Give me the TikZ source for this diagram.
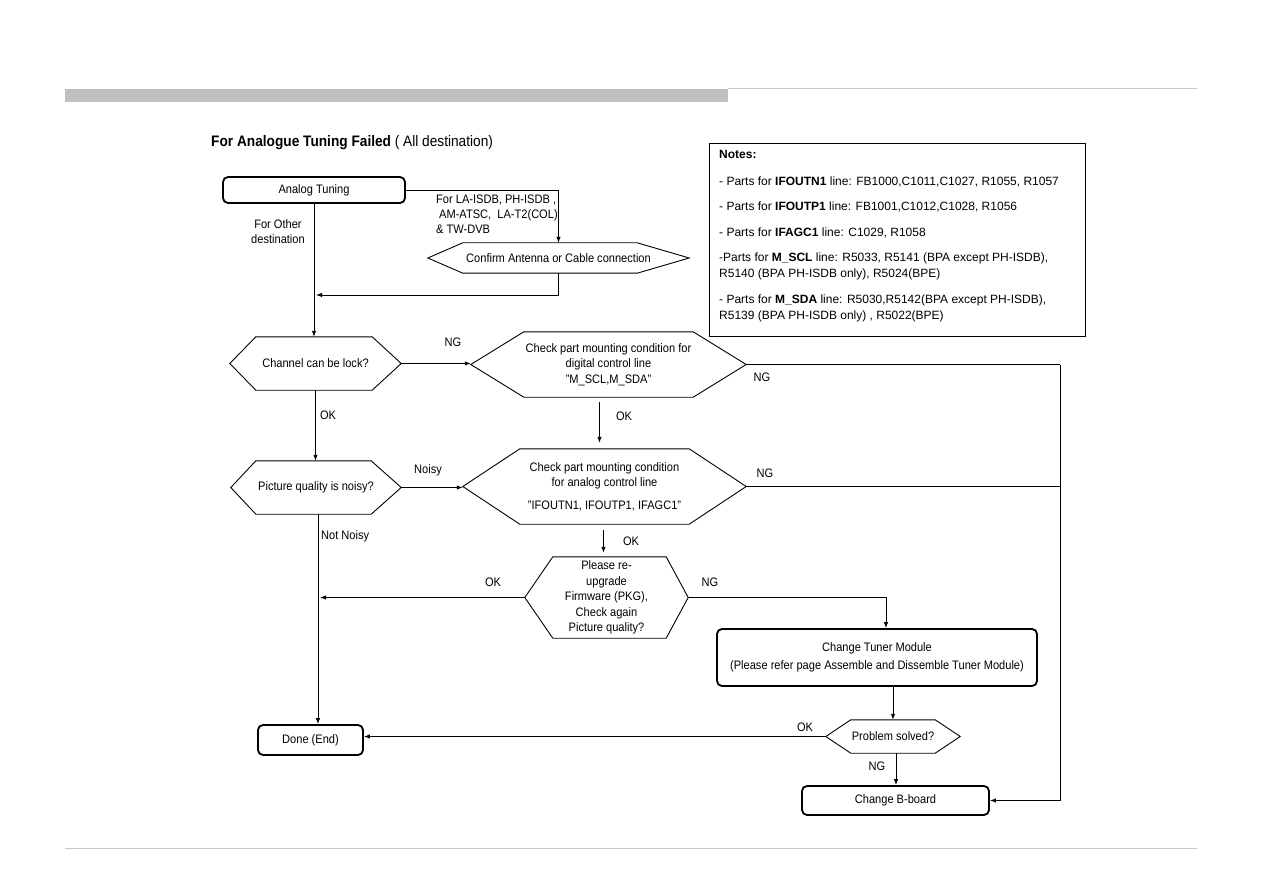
\documentclass[tikz,border=0pt]{standalone}
\usepackage{fontspec}
\setmainfont{Liberation Sans}[FakeStretch=0.9]
\newfontfamily\notafont{Liberation Sans}
\usetikzlibrary{positioning, arrows.meta, calc}
\definecolor{cbar}{RGB}{192,192,192}
\definecolor{cregla}{RGB}{200,200,200}

% hexagono: nodo, hueco izq., hueco der.
\newcommand{\hexa}[3]{%
  \draw[conn] (#1.west) -- ([xshift=#2]#1.north west) -- ([xshift=-#3]#1.north east)
    -- (#1.east) -- ([xshift=-#3]#1.south east) -- ([xshift=#2]#1.south west) -- cycle;}

\begin{document}
\begin{tikzpicture}[x=1pt, y=-1pt, font=\fontsize{12.3}{15.5}\selectfont, >={Latex[length=6pt,width=4.5pt]},
    box/.style={draw, line width=1.8pt, rounded corners=5pt, inner sep=0pt, align=center},
    hexn/.style={inner sep=0pt, align=center},
    lbl/.style={inner sep=0pt},
    conn/.style={line width=0.9pt}]

  \useasboundingbox (0,0) rectangle (1263,893);

  % cabecera y pie de pagina
  \fill[cbar] (65,89) rectangle (728,102);
  \draw[cregla, line width=1pt] (728,89) -- (1197,89);
  \draw[cregla, line width=0.8pt] (65,848) -- (1197,848);

  \node[lbl, anchor=west] (titulo) at (211,143) {\fontsize{15.2}{17}\selectfont\textbf{For Analogue Tuning Failed} ( All destination)};

  % nodos
  \node[box, minimum width=182, minimum height=26] (tune) at (314,190) {Analog Tuning};
  \node[hexn, minimum width=261, minimum height=30] (conf) at (558.5,258) {Confirm Antenna or Cable connection};
  \node[hexn, minimum width=171, minimum height=53] (chan) at (315.5,363.5) {Channel can be lock?};
  \node[hexn, minimum width=275, minimum height=65] (digi) at (608.5,364.5) {Check part mounting condition for\\ digital control line\\ "M\_SCL,M\_SDA"};
  \node[hexn, minimum width=170, minimum height=53] (pic) at (316,487.5) {Picture quality is noisy?};
  \node[hexn, minimum width=283, minimum height=75] (ana) at (604.5,486.5) {Check part mounting condition\\ for analog control line\\[7pt] "IFOUTN1, IFOUTP1, IFAGC1"};
  \node[hexn, minimum width=163, minimum height=81] (please) at (606.5,597.5) {Please re-\\ upgrade\\ Firmware (PKG),\\ Check again\\ Picture quality?};
  \node[box, minimum width=320, minimum height=57] (tuner) at (877,657.5) {Change Tuner Module\\[3pt] (Please refer page Assemble and Dissemble Tuner Module)};
  \node[hexn, minimum width=134, minimum height=33] (prob) at (893,736.5) {Problem solved?};
  \node[box, minimum width=187, minimum height=29] (board) at (895.5,800.5) {Change B-board};
  \node[box, minimum width=105, minimum height=30] (done) at (310.5,740) {Done (End)};

  \hexa{conf}{35pt}{52pt}
  \hexa{chan}{26pt}{29pt}
  \hexa{digi}{53pt}{53pt}
  \hexa{pic}{25pt}{30pt}
  \hexa{ana}{57pt}{57pt}
  \hexa{please}{28pt}{22pt}
  \hexa{prob}{25pt}{25pt}

  % notas
  \node[draw, conn, minimum width=376, minimum height=193, inner sep=0pt] (notas) at (897,239.5) {};
  \node[lbl, anchor=north west, align=left, font=\notafont\fontsize{12}{16}\selectfont] (notastxt) at (719,150) {%
    \textbf{Notes:}\\[11pt]
    - Parts for \textbf{IFOUTN1} line: FB1000,C1011,C1027, R1055, R1057\\[9pt]
    - Parts for \textbf{IFOUTP1} line: FB1001,C1012,C1028, R1056\\[10pt]
    - Parts for \textbf{IFAGC1} line: C1029, R1058\\[9pt]
    -Parts for \textbf{M\_SCL} line: R5033, R5141 (BPA except PH-ISDB),\\
    R5140 (BPA PH-ISDB only), R5024(BPE)\\[10pt]
    - Parts for \textbf{M\_SDA} line: R5030,R5142(BPA except PH-ISDB),\\
    R5139 (BPA PH-ISDB only) , R5022(BPE)};

  % carril derecho hacia B-board
  \coordinate (rail) at (1060,365);
  \coordinate (join) at (316,295);

  % conexiones
  \draw[conn, ->] (tune.east) -| (conf.north);
  \draw[conn, ->] (conf.south) |- (join);
  \draw[conn, ->] (tune.south) -- (tune.south |- chan.north);
  \draw[conn, ->] (chan.east) -- (chan.east -| digi.west);
  \draw[conn] (digi.east) -- (digi.east -| rail);
  \draw[conn, ->] (rail) |- (board.east);
  \draw[conn] (ana.east) -- (ana.east -| rail);
  \draw[conn, ->, shorten <=5pt, shorten >=6pt] ([xshift=-9pt]digi.south) -- ([xshift=-9pt]digi.south |- ana.north);
  \draw[conn, ->] (chan.south) -- (chan.south |- pic.north);
  \draw[conn, ->] (pic.east) -- (pic.east -| ana.west);
  \draw[conn, ->] ([xshift=2pt]pic.south) -- ([xshift=2pt]pic.south |- done.north);
  \draw[conn, ->, shorten <=6pt, shorten >=4pt] ([xshift=-1pt]ana.south) -- ([xshift=-1pt]ana.south |- please.north);
  \draw[conn, ->] (please.west) -- ([xshift=4pt]please.west -| pic.south);
  \draw[conn, ->] (please.east) -| ([xshift=9pt]tuner.north);
  \draw[conn, ->] (tuner.south -| prob.north) -- (prob.north);
  \draw[conn, ->] (prob.west) -- (prob.west -| done.east);
  \draw[conn, ->] ([xshift=3pt]prob.south) -- ([xshift=3pt]prob.south |- board.north);

  % etiquetas
  \node[lbl, anchor=west, align=left, font=\fontsize{12.3}{15}\selectfont] (ldest) at (436,214) {For LA-ISDB, PH-ISDB ,\\ \hspace{3pt}AM-ATSC,\ \ LA-T2(COL)\\ \& TW-DVB};
  \node[lbl, align=center, font=\fontsize{12.3}{15}\selectfont] (lotra) at (278,232) {For Other\\ destination};
  \node[lbl] (lng1) at (453,342) {NG};
  \node[lbl] (lng2) at (762,377) {NG};
  \node[lbl] (lok1) at (624,416) {OK};
  \node[lbl] (lok2) at (328,415) {OK};
  \node[lbl] (lnoisy) at (428,470) {Noisy};
  \node[lbl] (lng3) at (765,473) {NG};
  \node[lbl, anchor=west] (lnot) at (321,536) {Not Noisy};
  \node[lbl] (lok3) at (631,541) {OK};
  \node[lbl] (lok4) at (493,582) {OK};
  \node[lbl] (lng4) at (710,582) {NG};
  \node[lbl] (lok5) at (805,727) {OK};
  \node[lbl] (lng5) at (877,766) {NG};
\end{tikzpicture}
\end{document}
